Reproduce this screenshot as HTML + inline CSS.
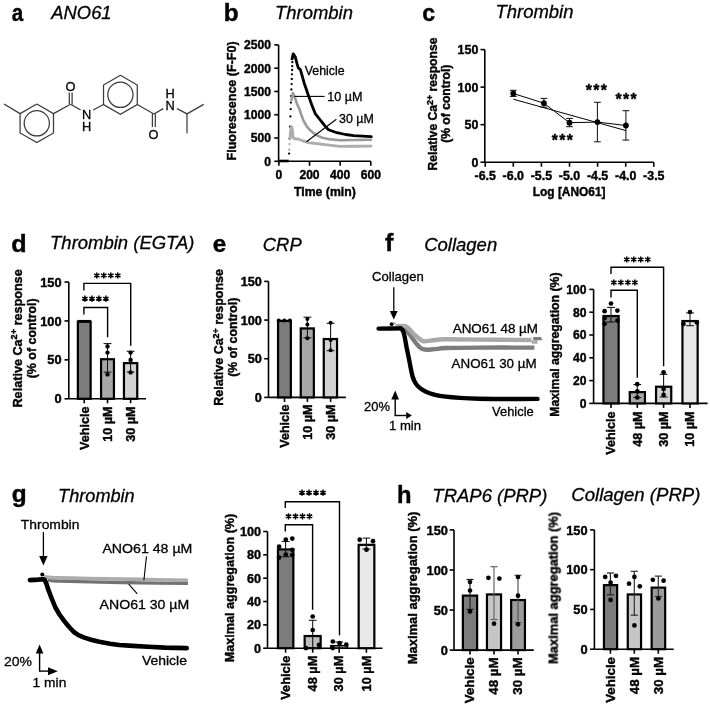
<!DOCTYPE html>
<html><head><meta charset="utf-8"><style>
html,body{margin:0;padding:0;background:#fff;}
svg{display:block;}
text{font-family:"Liberation Sans", sans-serif;}
</style></head><body>
<svg width="710" height="706" viewBox="0 0 710 706">
<defs><filter id="soft" x="0" y="0" width="1" height="1"><feGaussianBlur stdDeviation="0.35"/></filter></defs>
<rect x="0" y="0" width="710" height="706" fill="#fff"/>
<g filter="url(#soft)">
<text x="11.73" y="20.6" font-size="24" font-weight="bold" textLength="11.49" lengthAdjust="spacingAndGlyphs" stroke="#000" stroke-width="0.4">a</text>
<text x="51.37" y="18.6" font-size="18.5" font-style="italic" textLength="60.23" lengthAdjust="spacingAndGlyphs" stroke="#000" stroke-width="0.3">ANO61</text>
<polyline points="36.8,104 53.51,113.65 53.51,132.95 36.8,142.6 20.09,132.95 20.09,113.65 36.8,104" fill="none" stroke="#3a3a3a" stroke-width="1.25" stroke-linejoin="miter" stroke-linecap="butt"/>
<circle cx="36.8" cy="123.3" r="12.6" fill="none" stroke="#3a3a3a" stroke-width="1.25"/>
<line x1="20.09" y1="113.65" x2="4" y2="104" stroke="#3a3a3a" stroke-width="1.25"/>
<line x1="53.51" y1="113.65" x2="70.6" y2="104.3" stroke="#3a3a3a" stroke-width="1.25"/>
<line x1="69.3" y1="104" x2="69.3" y2="92.6" stroke="#3a3a3a" stroke-width="1.25"/>
<line x1="72.1" y1="104.8" x2="72.1" y2="92.6" stroke="#3a3a3a" stroke-width="1.25"/>
<text x="70.4" y="90.6" font-size="12.8" text-anchor="middle" stroke="#000" stroke-width="0.3">O</text>
<line x1="70.6" y1="104.3" x2="80.6" y2="110" stroke="#3a3a3a" stroke-width="1.25"/>
<text x="86.7" y="119" font-size="12.8" text-anchor="middle" stroke="#000" stroke-width="0.3">N</text>
<text x="86.7" y="130.5" font-size="12.8" text-anchor="middle" stroke="#000" stroke-width="0.3">H</text>
<polyline points="120.4,75.3 137.29,85.05 137.29,104.55 120.4,114.3 103.51,104.55 103.51,85.05 120.4,75.3" fill="none" stroke="#3a3a3a" stroke-width="1.25" stroke-linejoin="miter" stroke-linecap="butt"/>
<circle cx="120.4" cy="94.8" r="12.6" fill="none" stroke="#3a3a3a" stroke-width="1.25"/>
<line x1="93.2" y1="110" x2="103.51" y2="104.55" stroke="#3a3a3a" stroke-width="1.25"/>
<line x1="137.29" y1="104.55" x2="153.9" y2="114" stroke="#3a3a3a" stroke-width="1.25"/>
<line x1="152.4" y1="114" x2="152.4" y2="127" stroke="#3a3a3a" stroke-width="1.25"/>
<line x1="155.3" y1="113.4" x2="155.3" y2="127" stroke="#3a3a3a" stroke-width="1.25"/>
<text x="153.5" y="138.6" font-size="12.8" text-anchor="middle" stroke="#000" stroke-width="0.3">O</text>
<line x1="153.9" y1="114" x2="163.3" y2="108.6" stroke="#3a3a3a" stroke-width="1.25"/>
<text x="170" y="110" font-size="12.8" text-anchor="middle" stroke="#000" stroke-width="0.3">N</text>
<text x="170" y="98" font-size="12.8" text-anchor="middle" stroke="#000" stroke-width="0.3">H</text>
<line x1="177" y1="108.6" x2="187" y2="113.9" stroke="#3a3a3a" stroke-width="1.25"/>
<line x1="187" y1="113.9" x2="203.7" y2="104.4" stroke="#3a3a3a" stroke-width="1.25"/>
<line x1="187" y1="113.9" x2="187" y2="133.3" stroke="#3a3a3a" stroke-width="1.25"/>
<text x="223.77" y="20.6" font-size="24" font-weight="bold" textLength="14.88" lengthAdjust="spacingAndGlyphs" stroke="#000" stroke-width="0.4">b</text>
<text x="274.99" y="18.7" font-size="18.5" font-style="italic" textLength="77.91" lengthAdjust="spacingAndGlyphs" stroke="#000" stroke-width="0.3">Thrombin</text>
<line x1="278.6" y1="44.9" x2="278.6" y2="161.3" stroke="#000" stroke-width="1.6"/>
<line x1="274.3" y1="44.9" x2="278.6" y2="44.9" stroke="#000" stroke-width="1.6"/>
<text x="271" y="49.26" font-size="12.1" font-weight="bold" text-anchor="end" stroke="#000" stroke-width="0.4">2500</text>
<line x1="274.3" y1="68.18" x2="278.6" y2="68.18" stroke="#000" stroke-width="1.6"/>
<text x="271" y="72.54" font-size="12.1" font-weight="bold" text-anchor="end" stroke="#000" stroke-width="0.4">2000</text>
<line x1="274.3" y1="91.46" x2="278.6" y2="91.46" stroke="#000" stroke-width="1.6"/>
<text x="271" y="95.82" font-size="12.1" font-weight="bold" text-anchor="end" stroke="#000" stroke-width="0.4">1500</text>
<line x1="274.3" y1="114.74" x2="278.6" y2="114.74" stroke="#000" stroke-width="1.6"/>
<text x="271" y="119.1" font-size="12.1" font-weight="bold" text-anchor="end" stroke="#000" stroke-width="0.4">1000</text>
<line x1="274.3" y1="138.02" x2="278.6" y2="138.02" stroke="#000" stroke-width="1.6"/>
<text x="271" y="142.38" font-size="12.1" font-weight="bold" text-anchor="end" stroke="#000" stroke-width="0.4">500</text>
<line x1="274.3" y1="161.3" x2="278.6" y2="161.3" stroke="#000" stroke-width="1.6"/>
<text x="271" y="165.66" font-size="12.1" font-weight="bold" text-anchor="end" stroke="#000" stroke-width="0.4">0</text>
<line x1="278.6" y1="161.3" x2="370.8" y2="161.3" stroke="#000" stroke-width="1.6"/>
<line x1="278.9" y1="161.3" x2="278.9" y2="165.8" stroke="#000" stroke-width="1.6"/>
<line x1="309.53" y1="161.3" x2="309.53" y2="165.8" stroke="#000" stroke-width="1.6"/>
<line x1="340.17" y1="161.3" x2="340.17" y2="165.8" stroke="#000" stroke-width="1.6"/>
<line x1="370.8" y1="161.3" x2="370.8" y2="165.8" stroke="#000" stroke-width="1.6"/>
<text x="278.9" y="178.6" font-size="12.1" font-weight="bold" text-anchor="middle" stroke="#000" stroke-width="0.4">0</text>
<text x="309.53" y="178.6" font-size="12.1" font-weight="bold" text-anchor="middle" stroke="#000" stroke-width="0.4">200</text>
<text x="340.17" y="178.6" font-size="12.1" font-weight="bold" text-anchor="middle" stroke="#000" stroke-width="0.4">400</text>
<text x="370.8" y="178.6" font-size="12.1" font-weight="bold" text-anchor="middle" stroke="#000" stroke-width="0.4">600</text>
<text x="294.03" y="196.3" font-size="12.2" font-weight="bold" textLength="61.74" lengthAdjust="spacingAndGlyphs" stroke="#000" stroke-width="0.4">Time (min)</text>
<text x="235.6" y="160.5" font-size="12.7" font-weight="bold" textLength="119.17" lengthAdjust="spacingAndGlyphs" transform="rotate(-90 235.6 160.5)" stroke="#000" stroke-width="0.4">Fluorescence (F-F0)</text>
<polyline points="278.6,161 288.8,161" fill="none" stroke="#000" stroke-width="2.6" stroke-linejoin="round" stroke-linecap="butt"/>
<circle cx="292.5" cy="58.5" r="1.15" fill="#000"/>
<circle cx="292.37" cy="62.2" r="1.15" fill="#000"/>
<circle cx="292.22" cy="66.2" r="1.15" fill="#000"/>
<circle cx="292.09" cy="70" r="1.15" fill="#000"/>
<circle cx="291.94" cy="74.3" r="1.15" fill="#000"/>
<circle cx="291.77" cy="79" r="1.15" fill="#000"/>
<circle cx="291.58" cy="84.1" r="1.15" fill="#000"/>
<circle cx="291.39" cy="89.5" r="1.15" fill="#000"/>
<circle cx="291.16" cy="96" r="1.15" fill="#000"/>
<circle cx="290.92" cy="102.6" r="1.15" fill="#000"/>
<circle cx="290.69" cy="109.2" r="1.15" fill="#000"/>
<circle cx="290.43" cy="116.4" r="1.15" fill="#000"/>
<circle cx="290.06" cy="126.7" r="1.15" fill="#000"/>
<circle cx="289.63" cy="138.8" r="1.15" fill="#000"/>
<circle cx="289.44" cy="144.1" r="1.15" fill="#aaa"/>
<circle cx="289.24" cy="149.7" r="1.15" fill="#aaa"/>
<circle cx="289.1" cy="153.6" r="1.15" fill="#000"/>
<polyline points="290,138.5 290.8,130 291.4,126.8 292.2,129 293,137.3 294.5,138.7 298.3,139 303.3,141 308.2,142.6 313.7,143.3 325,144.6 340,146.4 355,146.3 371,146.1" fill="none" stroke="#adadad" stroke-width="2.9" stroke-linejoin="round" stroke-linecap="round"/>
<polyline points="291.5,100 292.9,93.1 295,97.7 297.2,104.5 299.3,108.8 301,113.9 303.5,120.7 306.9,126.6 311.2,131.3 316.3,135.1 322.2,137.7 330.7,139.4 340,140.2 355,140 371,139.8" fill="none" stroke="#9a9a9a" stroke-width="2.6" stroke-linejoin="round" stroke-linecap="round"/>
<polyline points="292,59 293.2,53.9 295.3,56.9 297,63.7 298.3,67.9 300.4,69.6 302.1,75.6 304.2,83.2 306.3,89.2 308.6,96 312,105.4 315.4,113.9 318.8,118.1 321.4,121.5 325.6,126.6 328.5,129.7 336.9,132.7 345.4,134.5 353.8,135.6 362.3,136.1 371.3,136.7" fill="none" stroke="#000" stroke-width="2.8" stroke-linejoin="round" stroke-linecap="round"/>
<text x="304.79" y="74.6" font-size="12" textLength="39.81" lengthAdjust="spacingAndGlyphs" stroke="#000" stroke-width="0.3">Vehicle</text>
<line x1="294.4" y1="96.4" x2="324.6" y2="96.4" stroke="#000" stroke-width="1.1"/>
<text x="327.2" y="100.6" font-size="12" textLength="35.28" lengthAdjust="spacingAndGlyphs" stroke="#000" stroke-width="0.3">10 µM</text>
<line x1="306.5" y1="141.8" x2="336.4" y2="119.2" stroke="#000" stroke-width="1.1"/>
<text x="338.98" y="122.7" font-size="12" textLength="34.78" lengthAdjust="spacingAndGlyphs" stroke="#000" stroke-width="0.3">30 µM</text>
<text x="422.22" y="20.6" font-size="24" font-weight="bold" textLength="12.89" lengthAdjust="spacingAndGlyphs" stroke="#000" stroke-width="0.4">c</text>
<text x="495.49" y="18.4" font-size="18.5" font-style="italic" textLength="78.02" lengthAdjust="spacingAndGlyphs" stroke="#000" stroke-width="0.3">Thrombin</text>
<line x1="484.8" y1="49.6" x2="484.8" y2="162.2" stroke="#000" stroke-width="1.6"/>
<line x1="480.5" y1="49.6" x2="484.8" y2="49.6" stroke="#000" stroke-width="1.6"/>
<text x="478.3" y="54.06" font-size="12.4" font-weight="bold" text-anchor="end" stroke="#000" stroke-width="0.4">150</text>
<line x1="480.5" y1="87.13" x2="484.8" y2="87.13" stroke="#000" stroke-width="1.6"/>
<text x="478.3" y="91.6" font-size="12.4" font-weight="bold" text-anchor="end" stroke="#000" stroke-width="0.4">100</text>
<line x1="480.5" y1="124.67" x2="484.8" y2="124.67" stroke="#000" stroke-width="1.6"/>
<text x="478.3" y="129.13" font-size="12.4" font-weight="bold" text-anchor="end" stroke="#000" stroke-width="0.4">50</text>
<line x1="480.5" y1="162.2" x2="484.8" y2="162.2" stroke="#000" stroke-width="1.6"/>
<text x="478.3" y="166.66" font-size="12.4" font-weight="bold" text-anchor="end" stroke="#000" stroke-width="0.4">0</text>
<line x1="484.8" y1="162.2" x2="653.8" y2="162.2" stroke="#000" stroke-width="1.6"/>
<line x1="485.2" y1="162.2" x2="485.2" y2="166.7" stroke="#000" stroke-width="1.6"/>
<line x1="513.3" y1="162.2" x2="513.3" y2="166.7" stroke="#000" stroke-width="1.6"/>
<line x1="541.4" y1="162.2" x2="541.4" y2="166.7" stroke="#000" stroke-width="1.6"/>
<line x1="569.5" y1="162.2" x2="569.5" y2="166.7" stroke="#000" stroke-width="1.6"/>
<line x1="597.6" y1="162.2" x2="597.6" y2="166.7" stroke="#000" stroke-width="1.6"/>
<line x1="625.7" y1="162.2" x2="625.7" y2="166.7" stroke="#000" stroke-width="1.6"/>
<line x1="653.8" y1="162.2" x2="653.8" y2="166.7" stroke="#000" stroke-width="1.6"/>
<text x="485.2" y="179.8" font-size="12.4" font-weight="bold" text-anchor="middle" stroke="#000" stroke-width="0.4">-6.5</text>
<text x="513.3" y="179.8" font-size="12.4" font-weight="bold" text-anchor="middle" stroke="#000" stroke-width="0.4">-6.0</text>
<text x="541.4" y="179.8" font-size="12.4" font-weight="bold" text-anchor="middle" stroke="#000" stroke-width="0.4">-5.5</text>
<text x="569.5" y="179.8" font-size="12.4" font-weight="bold" text-anchor="middle" stroke="#000" stroke-width="0.4">-5.0</text>
<text x="597.6" y="179.8" font-size="12.4" font-weight="bold" text-anchor="middle" stroke="#000" stroke-width="0.4">-4.5</text>
<text x="625.7" y="179.8" font-size="12.4" font-weight="bold" text-anchor="middle" stroke="#000" stroke-width="0.4">-4.0</text>
<text x="653.8" y="179.8" font-size="12.4" font-weight="bold" text-anchor="middle" stroke="#000" stroke-width="0.4">-3.5</text>
<text x="532.75" y="196.4" font-size="12.2" font-weight="bold" textLength="72.77" lengthAdjust="spacingAndGlyphs" stroke="#000" stroke-width="0.4">Log [ANO61]</text>
<text x="437" y="170.47" font-size="12.2" font-weight="bold" textLength="65.53" lengthAdjust="spacingAndGlyphs" transform="rotate(-90 437 170.47)" stroke="#000" stroke-width="0.4">Relative Ca</text>
<text x="432.61" y="104.94" font-size="8.78" font-weight="bold" textLength="9.98" lengthAdjust="spacingAndGlyphs" transform="rotate(-90 432.61 104.94)" stroke="#000" stroke-width="0.4">2+</text>
<text x="437" y="91.58" font-size="12.2" font-weight="bold" textLength="54.04" lengthAdjust="spacingAndGlyphs" transform="rotate(-90 437 91.58)" stroke="#000" stroke-width="0.4">response</text>
<text x="450.2" y="142.86" font-size="12" font-weight="bold" textLength="78.23" lengthAdjust="spacingAndGlyphs" transform="rotate(-90 450.2 142.86)" stroke="#000" stroke-width="0.4">(% of control)</text>
<line x1="513.3" y1="90.3" x2="513.3" y2="96.4" stroke="#111" stroke-width="1"/>
<line x1="509.9" y1="90.3" x2="516.7" y2="90.3" stroke="#111" stroke-width="1"/>
<line x1="509.9" y1="96.4" x2="516.7" y2="96.4" stroke="#111" stroke-width="1"/>
<line x1="543.9" y1="98.4" x2="543.9" y2="107.2" stroke="#111" stroke-width="1"/>
<line x1="540.5" y1="98.4" x2="547.3" y2="98.4" stroke="#111" stroke-width="1"/>
<line x1="540.5" y1="107.2" x2="547.3" y2="107.2" stroke="#111" stroke-width="1"/>
<line x1="569.5" y1="118.4" x2="569.5" y2="126.7" stroke="#111" stroke-width="1"/>
<line x1="566.1" y1="118.4" x2="572.9" y2="118.4" stroke="#111" stroke-width="1"/>
<line x1="566.1" y1="126.7" x2="572.9" y2="126.7" stroke="#111" stroke-width="1"/>
<line x1="597.4" y1="102.3" x2="597.4" y2="141.8" stroke="#111" stroke-width="1"/>
<line x1="594" y1="102.3" x2="600.8" y2="102.3" stroke="#111" stroke-width="1"/>
<line x1="594" y1="141.8" x2="600.8" y2="141.8" stroke="#111" stroke-width="1"/>
<line x1="625.9" y1="110.7" x2="625.9" y2="140.1" stroke="#111" stroke-width="1"/>
<line x1="622.5" y1="110.7" x2="629.3" y2="110.7" stroke="#111" stroke-width="1"/>
<line x1="622.5" y1="140.1" x2="629.3" y2="140.1" stroke="#111" stroke-width="1"/>
<polyline points="513.3,93.5 543.9,103.2 569.5,122.7 597.4,122.1 625.9,125.5" fill="none" stroke="#000" stroke-width="1" stroke-linejoin="round" stroke-linecap="round"/>
<line x1="513.3" y1="99.2" x2="626" y2="130.6" stroke="#000" stroke-width="1"/>
<circle cx="513.3" cy="93.5" r="2.9" fill="#000"/>
<circle cx="543.9" cy="103.2" r="2.9" fill="#000"/>
<circle cx="569.5" cy="122.7" r="2.9" fill="#000"/>
<circle cx="597.4" cy="122.1" r="2.9" fill="#000"/>
<circle cx="625.9" cy="125.5" r="2.9" fill="#000"/>
<text x="554.9" y="146.06" font-size="15.8" font-weight="bold" text-anchor="middle" stroke="#000" stroke-width="0.4">*</text>
<text x="562.4" y="146.06" font-size="15.8" font-weight="bold" text-anchor="middle" stroke="#000" stroke-width="0.4">*</text>
<text x="569.9" y="146.06" font-size="15.8" font-weight="bold" text-anchor="middle" stroke="#000" stroke-width="0.4">*</text>
<text x="588.8" y="96.16" font-size="15.8" font-weight="bold" text-anchor="middle" stroke="#000" stroke-width="0.4">*</text>
<text x="596.3" y="96.16" font-size="15.8" font-weight="bold" text-anchor="middle" stroke="#000" stroke-width="0.4">*</text>
<text x="603.8" y="96.16" font-size="15.8" font-weight="bold" text-anchor="middle" stroke="#000" stroke-width="0.4">*</text>
<text x="618.7" y="104.66" font-size="15.8" font-weight="bold" text-anchor="middle" stroke="#000" stroke-width="0.4">*</text>
<text x="626.2" y="104.66" font-size="15.8" font-weight="bold" text-anchor="middle" stroke="#000" stroke-width="0.4">*</text>
<text x="633.7" y="104.66" font-size="15.8" font-weight="bold" text-anchor="middle" stroke="#000" stroke-width="0.4">*</text>
<text x="11.34" y="251.6" font-size="24" font-weight="bold" textLength="15.36" lengthAdjust="spacingAndGlyphs" stroke="#000" stroke-width="0.4">d</text>
<text x="50.09" y="248.8" font-size="18.5" font-style="italic" textLength="144.39" lengthAdjust="spacingAndGlyphs" stroke="#000" stroke-width="0.3">Thrombin (EGTA)</text>
<line x1="68.8" y1="282" x2="68.8" y2="398.8" stroke="#000" stroke-width="1.6"/>
<line x1="64.5" y1="282" x2="68.8" y2="282" stroke="#000" stroke-width="1.6"/>
<text x="61.6" y="286.61" font-size="12.8" font-weight="bold" text-anchor="end" stroke="#000" stroke-width="0.4">150</text>
<line x1="64.5" y1="320.93" x2="68.8" y2="320.93" stroke="#000" stroke-width="1.6"/>
<text x="61.6" y="325.54" font-size="12.8" font-weight="bold" text-anchor="end" stroke="#000" stroke-width="0.4">100</text>
<line x1="64.5" y1="359.87" x2="68.8" y2="359.87" stroke="#000" stroke-width="1.6"/>
<text x="61.6" y="364.47" font-size="12.8" font-weight="bold" text-anchor="end" stroke="#000" stroke-width="0.4">50</text>
<line x1="64.5" y1="398.8" x2="68.8" y2="398.8" stroke="#000" stroke-width="1.6"/>
<text x="61.6" y="403.41" font-size="12.8" font-weight="bold" text-anchor="end" stroke="#000" stroke-width="0.4">0</text>
<line x1="68.8" y1="398.8" x2="146" y2="398.8" stroke="#000" stroke-width="1.6"/>
<line x1="84.2" y1="398.8" x2="84.2" y2="403.3" stroke="#000" stroke-width="1.6"/>
<line x1="107.5" y1="398.8" x2="107.5" y2="403.3" stroke="#000" stroke-width="1.6"/>
<line x1="130.6" y1="398.8" x2="130.6" y2="403.3" stroke="#000" stroke-width="1.6"/>
<rect x="77.85" y="321.76" width="12.8" height="77.04" fill="#7b7b7b" stroke="#000" stroke-width="2.2"/>
<rect x="101.05" y="359.23" width="12.9" height="39.57" fill="#a7a7a7" stroke="#000" stroke-width="2.2"/>
<rect x="123.95" y="363.13" width="13.3" height="35.67" fill="#d2d2d2" stroke="#000" stroke-width="2.2"/>
<line x1="77.5" y1="321.23" x2="91" y2="321.23" stroke="#000" stroke-width="2.6"/>
<line x1="107.5" y1="343.6" x2="107.5" y2="372.1" stroke="#111" stroke-width="1.05"/>
<line x1="103.6" y1="343.6" x2="111.4" y2="343.6" stroke="#111" stroke-width="1.05"/>
<line x1="103.6" y1="372.1" x2="111.4" y2="372.1" stroke="#111" stroke-width="1.05"/>
<line x1="130.6" y1="351.3" x2="130.6" y2="372.1" stroke="#111" stroke-width="1.05"/>
<line x1="126.7" y1="351.3" x2="134.5" y2="351.3" stroke="#111" stroke-width="1.05"/>
<line x1="126.7" y1="372.1" x2="134.5" y2="372.1" stroke="#111" stroke-width="1.05"/>
<circle cx="107.5" cy="346.4" r="2.2" fill="#000"/>
<circle cx="107.5" cy="352.6" r="2.2" fill="#000"/>
<circle cx="107.5" cy="374.4" r="2.2" fill="#000"/>
<circle cx="130.6" cy="352.6" r="2.2" fill="#000"/>
<circle cx="130.6" cy="359.9" r="2.2" fill="#000"/>
<circle cx="130.6" cy="372.4" r="2.2" fill="#000"/>
<polyline points="83.9,314.5 83.9,307.5 107.6,307.5 107.6,337.2" fill="none" stroke="#000" stroke-width="1.4" stroke-linejoin="miter" stroke-linecap="butt"/>
<polyline points="83.9,290.5 83.9,283.4 130.7,283.4 130.7,345.7" fill="none" stroke="#000" stroke-width="1.4" stroke-linejoin="miter" stroke-linecap="butt"/>
<path d="M84.9,295.6 L84.9,301.8 M82.22,297.15 L87.58,300.25 M87.58,297.15 L82.22,300.25 M91.9,295.6 L91.9,301.8 M89.22,297.15 L94.58,300.25 M94.58,297.15 L89.22,300.25 M98.9,295.6 L98.9,301.8 M96.22,297.15 L101.58,300.25 M101.58,297.15 L96.22,300.25 M105.9,295.6 L105.9,301.8 M103.22,297.15 L108.58,300.25 M108.58,297.15 L103.22,300.25" stroke="#000" stroke-width="1.5" stroke-linecap="butt" fill="none"/>
<path d="M96.8,272.4 L96.8,278.6 M94.12,273.95 L99.48,277.05 M99.48,273.95 L94.12,277.05 M103.8,272.4 L103.8,278.6 M101.12,273.95 L106.48,277.05 M106.48,273.95 L101.12,277.05 M110.8,272.4 L110.8,278.6 M108.12,273.95 L113.48,277.05 M113.48,273.95 L108.12,277.05 M117.8,272.4 L117.8,278.6 M115.12,273.95 L120.48,277.05 M120.48,273.95 L115.12,277.05" stroke="#000" stroke-width="1.5" stroke-linecap="butt" fill="none"/>
<text x="88.5" y="406.5" font-size="12.6" font-weight="bold" text-anchor="end" transform="rotate(-90 88.5 406.5)" stroke="#000" stroke-width="0.4">Vehicle</text>
<text x="111.8" y="406.5" font-size="12.6" font-weight="bold" text-anchor="end" transform="rotate(-90 111.8 406.5)" stroke="#000" stroke-width="0.4">10 µM</text>
<text x="134.9" y="406.5" font-size="12.6" font-weight="bold" text-anchor="end" transform="rotate(-90 134.9 406.5)" stroke="#000" stroke-width="0.4">30 µM</text>
<text x="22" y="407.5" font-size="12.9" font-weight="bold" textLength="68.12" lengthAdjust="spacingAndGlyphs" transform="rotate(-90 22 407.5)" stroke="#000" stroke-width="0.4">Relative Ca</text>
<text x="17.36" y="339.38" font-size="9.29" font-weight="bold" textLength="10.37" lengthAdjust="spacingAndGlyphs" transform="rotate(-90 17.36 339.38)" stroke="#000" stroke-width="0.4">2+</text>
<text x="22" y="325.5" font-size="12.9" font-weight="bold" textLength="56.18" lengthAdjust="spacingAndGlyphs" transform="rotate(-90 22 325.5)" stroke="#000" stroke-width="0.4">response</text>
<text x="35.8" y="378.27" font-size="12.5" font-weight="bold" textLength="79.95" lengthAdjust="spacingAndGlyphs" transform="rotate(-90 35.8 378.27)" stroke="#000" stroke-width="0.4">(% of control)</text>
<text x="212.78" y="251.6" font-size="24" font-weight="bold" textLength="13.49" lengthAdjust="spacingAndGlyphs" stroke="#000" stroke-width="0.4">e</text>
<text x="262.84" y="250.8" font-size="18.5" font-style="italic" textLength="38.83" lengthAdjust="spacingAndGlyphs" stroke="#000" stroke-width="0.3">CRP</text>
<line x1="268.5" y1="281.4" x2="268.5" y2="397.4" stroke="#000" stroke-width="1.6"/>
<line x1="264.2" y1="281.4" x2="268.5" y2="281.4" stroke="#000" stroke-width="1.6"/>
<text x="261.9" y="285.97" font-size="12.7" font-weight="bold" text-anchor="end" stroke="#000" stroke-width="0.4">150</text>
<line x1="264.2" y1="320.07" x2="268.5" y2="320.07" stroke="#000" stroke-width="1.6"/>
<text x="261.9" y="324.64" font-size="12.7" font-weight="bold" text-anchor="end" stroke="#000" stroke-width="0.4">100</text>
<line x1="264.2" y1="358.73" x2="268.5" y2="358.73" stroke="#000" stroke-width="1.6"/>
<text x="261.9" y="363.31" font-size="12.7" font-weight="bold" text-anchor="end" stroke="#000" stroke-width="0.4">50</text>
<line x1="264.2" y1="397.4" x2="268.5" y2="397.4" stroke="#000" stroke-width="1.6"/>
<text x="261.9" y="401.97" font-size="12.7" font-weight="bold" text-anchor="end" stroke="#000" stroke-width="0.4">0</text>
<line x1="268.5" y1="397.4" x2="345.8" y2="397.4" stroke="#000" stroke-width="1.6"/>
<line x1="284.5" y1="397.4" x2="284.5" y2="401.9" stroke="#000" stroke-width="1.6"/>
<line x1="307.4" y1="397.4" x2="307.4" y2="401.9" stroke="#000" stroke-width="1.6"/>
<line x1="330.6" y1="397.4" x2="330.6" y2="401.9" stroke="#000" stroke-width="1.6"/>
<rect x="278.05" y="320.9" width="12.8" height="76.5" fill="#7b7b7b" stroke="#000" stroke-width="2.2"/>
<rect x="300.75" y="328.43" width="13.1" height="68.97" fill="#a7a7a7" stroke="#000" stroke-width="2.2"/>
<rect x="323.75" y="339.03" width="13.3" height="58.37" fill="#d2d2d2" stroke="#000" stroke-width="2.2"/>
<line x1="307.4" y1="317.2" x2="307.4" y2="337.8" stroke="#111" stroke-width="1.05"/>
<line x1="303.5" y1="317.2" x2="311.3" y2="317.2" stroke="#111" stroke-width="1.05"/>
<line x1="303.5" y1="337.8" x2="311.3" y2="337.8" stroke="#111" stroke-width="1.05"/>
<line x1="330.6" y1="323.3" x2="330.6" y2="350.7" stroke="#111" stroke-width="1.05"/>
<line x1="326.7" y1="323.3" x2="334.5" y2="323.3" stroke="#111" stroke-width="1.05"/>
<line x1="326.7" y1="350.7" x2="334.5" y2="350.7" stroke="#111" stroke-width="1.05"/>
<circle cx="278.7" cy="320.5" r="2" fill="#000"/>
<circle cx="284.4" cy="320.5" r="2" fill="#000"/>
<circle cx="289.9" cy="320.5" r="2" fill="#000"/>
<circle cx="307.4" cy="319.1" r="2" fill="#000"/>
<circle cx="307.4" cy="324.5" r="2" fill="#000"/>
<circle cx="307.4" cy="338.2" r="2" fill="#000"/>
<circle cx="330.6" cy="322.7" r="2" fill="#000"/>
<circle cx="330.6" cy="340.1" r="2" fill="#000"/>
<circle cx="330.6" cy="350.2" r="2" fill="#000"/>
<text x="288.8" y="404.4" font-size="12.6" font-weight="bold" text-anchor="end" transform="rotate(-90 288.8 404.4)" stroke="#000" stroke-width="0.4">Vehicle</text>
<text x="311.7" y="404.4" font-size="12.6" font-weight="bold" text-anchor="end" transform="rotate(-90 311.7 404.4)" stroke="#000" stroke-width="0.4">10 µM</text>
<text x="334.9" y="404.4" font-size="12.6" font-weight="bold" text-anchor="end" transform="rotate(-90 334.9 404.4)" stroke="#000" stroke-width="0.4">30 µM</text>
<text x="223.4" y="405.79" font-size="12.9" font-weight="bold" textLength="67.43" lengthAdjust="spacingAndGlyphs" transform="rotate(-90 223.4 405.79)" stroke="#000" stroke-width="0.4">Relative Ca</text>
<text x="218.76" y="338.37" font-size="9.29" font-weight="bold" textLength="10.27" lengthAdjust="spacingAndGlyphs" transform="rotate(-90 218.76 338.37)" stroke="#000" stroke-width="0.4">2+</text>
<text x="223.4" y="324.63" font-size="12.9" font-weight="bold" textLength="55.6" lengthAdjust="spacingAndGlyphs" transform="rotate(-90 223.4 324.63)" stroke="#000" stroke-width="0.4">response</text>
<text x="237.1" y="376.76" font-size="12.6" font-weight="bold" textLength="79.04" lengthAdjust="spacingAndGlyphs" transform="rotate(-90 237.1 376.76)" stroke="#000" stroke-width="0.4">(% of control)</text>
<text x="385.11" y="251.3" font-size="24" font-weight="bold" textLength="8.39" lengthAdjust="spacingAndGlyphs" stroke="#000" stroke-width="0.4">f</text>
<text x="424.13" y="250.8" font-size="18.5" font-style="italic" textLength="73.05" lengthAdjust="spacingAndGlyphs" stroke="#000" stroke-width="0.3">Collagen</text>
<text x="371.99" y="281.3" font-size="12.8" textLength="51.77" lengthAdjust="spacingAndGlyphs" stroke="#000" stroke-width="0.3">Collagen</text>
<line x1="393.8" y1="287.2" x2="393.8" y2="312" stroke="#000" stroke-width="1.3"/>
<polygon points="389.8,311 397.7,311 393.8,319.6" fill="#000"/>
<path d="M401.5,327 C402.25,327.42 404.75,328.42 406,329.5 C407.25,330.58 408.02,332.15 409,333.5 C409.98,334.85 410.72,335.95 411.9,337.6 C413.08,339.25 414.83,341.83 416.1,343.4 C417.37,344.97 418.37,346.03 419.5,347 C420.63,347.97 421.35,348.75 422.9,349.2 C424.45,349.65 426.4,349.75 428.8,349.7 C431.2,349.65 434.48,349.18 437.3,348.9 C440.12,348.62 438.58,348.22 445.7,348 C452.82,347.78 465.22,347.67 480,347.6 C494.78,347.53 525.33,347.6 534.4,347.6" fill="none" stroke="#7d7d7d" stroke-width="4.4" stroke-linejoin="round" stroke-linecap="butt"/>
<path d="M395.5,326.4 C396.68,326.32 400.85,325.9 402.6,325.9 C404.35,325.9 404.77,325.75 406,326.4 C407.23,327.05 408.6,328.42 410,329.8 C411.4,331.18 412.67,333.07 414.4,334.7 C416.13,336.33 418.85,338.5 420.4,339.6 C421.95,340.7 422.02,341.13 423.7,341.3 C425.38,341.47 428.23,340.87 430.5,340.6 C432.77,340.33 434.77,339.93 437.3,339.7 C439.83,339.47 438.58,339.22 445.7,339.2 C452.82,339.18 465.68,339.47 480,339.6 C494.32,339.73 523,339.93 531.6,340" fill="none" stroke="#a9a9a9" stroke-width="4.4" stroke-linejoin="round" stroke-linecap="butt"/>
<line x1="531.6" y1="342" x2="537.6" y2="342" stroke="#a9a9a9" stroke-width="3.4"/>
<polygon points="533.2,337 541,337 542.4,340.2 533.2,340.2" fill="#7d7d7d"/>
<polyline points="378.6,328.6 391,328.5 400.5,328.4" fill="none" stroke="#000" stroke-width="4.4" stroke-linejoin="round" stroke-linecap="round"/>
<path d="M400.5,328.4 C400.85,328.7 401.97,329.1 402.6,330.2 C403.23,331.3 403.6,331.97 404.3,335 C405,338.03 406.03,344.48 406.8,348.4 C407.57,352.32 408.25,355.23 408.9,358.5 C409.55,361.77 410.08,365 410.7,368 C411.32,371 411.88,374.12 412.6,376.5 C413.32,378.88 414.07,380.63 415,382.3 C415.93,383.97 416.87,385.18 418.2,386.5 C419.53,387.82 421.1,389.07 423,390.2 C424.9,391.33 427.43,392.48 429.6,393.3 C431.77,394.12 433.65,394.58 436,395.1 C438.35,395.62 439.7,395.93 443.7,396.4 C447.7,396.87 454.08,397.52 460,397.9 C465.92,398.28 470.87,398.52 479.2,398.7 C487.53,398.88 500.28,398.97 510,399 C519.72,399.03 532.92,398.92 537.5,398.9" fill="none" stroke="#000" stroke-width="4.4" stroke-linejoin="round" stroke-linecap="round"/>
<circle cx="394.3" cy="323.4" r="1.3" fill="#b0b0b0"/>
<circle cx="391.6" cy="324.2" r="1.85" fill="#000"/>
<text x="452.72" y="332.5" font-size="12.8" textLength="85.26" lengthAdjust="spacingAndGlyphs" stroke="#000" stroke-width="0.3">ANO61 48 µM</text>
<text x="451.62" y="367.5" font-size="12.8" textLength="84.96" lengthAdjust="spacingAndGlyphs" stroke="#000" stroke-width="0.3">ANO61 30 µM</text>
<text x="492.09" y="415.5" font-size="12.8" textLength="41.64" lengthAdjust="spacingAndGlyphs" stroke="#000" stroke-width="0.3">Vehicle</text>
<line x1="395.2" y1="398.5" x2="395.2" y2="415.5" stroke="#000" stroke-width="1.4"/>
<polygon points="391.3,399.4 399,399.4 395.2,390.6" fill="#000"/>
<line x1="394.5" y1="415.5" x2="406.6" y2="415.5" stroke="#000" stroke-width="1.4"/>
<polygon points="406.2,411.9 406.2,419.1 411.9,415.5" fill="#000"/>
<text x="364" y="411" font-size="12.8" textLength="25.99" lengthAdjust="spacingAndGlyphs" stroke="#000" stroke-width="0.3">20%</text>
<text x="388.97" y="429.9" font-size="12.8" textLength="32.11" lengthAdjust="spacingAndGlyphs" stroke="#000" stroke-width="0.3">1 min</text>
<line x1="593.6" y1="289.4" x2="593.6" y2="403.4" stroke="#000" stroke-width="1.6"/>
<line x1="589.3" y1="289.4" x2="593.6" y2="289.4" stroke="#000" stroke-width="1.6"/>
<text x="586.4" y="293.76" font-size="12.1" font-weight="bold" text-anchor="end" stroke="#000" stroke-width="0.4">100</text>
<line x1="589.3" y1="312.2" x2="593.6" y2="312.2" stroke="#000" stroke-width="1.6"/>
<text x="586.4" y="316.56" font-size="12.1" font-weight="bold" text-anchor="end" stroke="#000" stroke-width="0.4">80</text>
<line x1="589.3" y1="335" x2="593.6" y2="335" stroke="#000" stroke-width="1.6"/>
<text x="586.4" y="339.36" font-size="12.1" font-weight="bold" text-anchor="end" stroke="#000" stroke-width="0.4">60</text>
<line x1="589.3" y1="357.8" x2="593.6" y2="357.8" stroke="#000" stroke-width="1.6"/>
<text x="586.4" y="362.16" font-size="12.1" font-weight="bold" text-anchor="end" stroke="#000" stroke-width="0.4">40</text>
<line x1="589.3" y1="380.6" x2="593.6" y2="380.6" stroke="#000" stroke-width="1.6"/>
<text x="586.4" y="384.96" font-size="12.1" font-weight="bold" text-anchor="end" stroke="#000" stroke-width="0.4">20</text>
<line x1="589.3" y1="403.4" x2="593.6" y2="403.4" stroke="#000" stroke-width="1.6"/>
<text x="586.4" y="407.76" font-size="12.1" font-weight="bold" text-anchor="end" stroke="#000" stroke-width="0.4">0</text>
<line x1="593.6" y1="403.4" x2="707.6" y2="403.4" stroke="#000" stroke-width="1.6"/>
<line x1="611" y1="403.4" x2="611" y2="407.9" stroke="#000" stroke-width="1.6"/>
<line x1="637.3" y1="403.4" x2="637.3" y2="407.9" stroke="#000" stroke-width="1.6"/>
<line x1="663.6" y1="403.4" x2="663.6" y2="407.9" stroke="#000" stroke-width="1.6"/>
<line x1="690" y1="403.4" x2="690" y2="407.9" stroke="#000" stroke-width="1.6"/>
<rect x="603.45" y="316.03" width="15.2" height="87.37" fill="#7b7b7b" stroke="#000" stroke-width="2.2"/>
<rect x="629.75" y="392.13" width="15.2" height="11.27" fill="#a7a7a7" stroke="#000" stroke-width="2.2"/>
<rect x="656.05" y="386.73" width="15.2" height="16.67" fill="#d2d2d2" stroke="#000" stroke-width="2.2"/>
<rect x="682.45" y="321.03" width="15.2" height="82.37" fill="#e8e8e8" stroke="#000" stroke-width="2.2"/>
<line x1="611" y1="307.4" x2="611" y2="322" stroke="#111" stroke-width="1.05"/>
<line x1="607.1" y1="307.4" x2="614.9" y2="307.4" stroke="#111" stroke-width="1.05"/>
<line x1="607.1" y1="322" x2="614.9" y2="322" stroke="#111" stroke-width="1.05"/>
<line x1="637.3" y1="384.5" x2="637.3" y2="397.5" stroke="#111" stroke-width="1.05"/>
<line x1="633.4" y1="384.5" x2="641.2" y2="384.5" stroke="#111" stroke-width="1.05"/>
<line x1="633.4" y1="397.5" x2="641.2" y2="397.5" stroke="#111" stroke-width="1.05"/>
<line x1="663.6" y1="374.3" x2="663.6" y2="397" stroke="#111" stroke-width="1.05"/>
<line x1="659.7" y1="374.3" x2="667.5" y2="374.3" stroke="#111" stroke-width="1.05"/>
<line x1="659.7" y1="397" x2="667.5" y2="397" stroke="#111" stroke-width="1.05"/>
<line x1="690" y1="312.9" x2="690" y2="325.7" stroke="#111" stroke-width="1.05"/>
<line x1="686.1" y1="312.9" x2="693.9" y2="312.9" stroke="#111" stroke-width="1.05"/>
<line x1="686.1" y1="325.7" x2="693.9" y2="325.7" stroke="#111" stroke-width="1.05"/>
<circle cx="604.6" cy="311.2" r="2.35" fill="#000"/>
<circle cx="611" cy="303.5" r="2.35" fill="#000"/>
<circle cx="617.4" cy="310.6" r="2.35" fill="#000"/>
<circle cx="604.6" cy="318" r="2.35" fill="#000"/>
<circle cx="617.4" cy="320.5" r="2.35" fill="#000"/>
<circle cx="604.6" cy="323.7" r="2.35" fill="#000"/>
<circle cx="637.3" cy="384.2" r="2.35" fill="#000"/>
<circle cx="637.3" cy="391.3" r="2.35" fill="#000"/>
<circle cx="637.3" cy="397.5" r="2.35" fill="#000"/>
<circle cx="663.6" cy="372.3" r="2.35" fill="#000"/>
<circle cx="663.6" cy="389" r="2.35" fill="#000"/>
<circle cx="663.6" cy="394.9" r="2.35" fill="#000"/>
<circle cx="690" cy="312" r="2.35" fill="#000"/>
<circle cx="683.4" cy="324.1" r="2.35" fill="#000"/>
<circle cx="696.9" cy="322.6" r="2.35" fill="#000"/>
<polyline points="611,297.5 611,290.3 637.3,290.3 637.3,377.7" fill="none" stroke="#000" stroke-width="1.4" stroke-linejoin="miter" stroke-linecap="butt"/>
<polyline points="611,274.1 611,267.2 663.6,267.2 663.6,366.3" fill="none" stroke="#000" stroke-width="1.4" stroke-linejoin="miter" stroke-linecap="butt"/>
<path d="M613.85,279.4 L613.85,285.6 M611.17,280.95 L616.53,284.05 M616.53,280.95 L611.17,284.05 M620.85,279.4 L620.85,285.6 M618.17,280.95 L623.53,284.05 M623.53,280.95 L618.17,284.05 M627.85,279.4 L627.85,285.6 M625.17,280.95 L630.53,284.05 M630.53,280.95 L625.17,284.05 M634.85,279.4 L634.85,285.6 M632.17,280.95 L637.53,284.05 M637.53,280.95 L632.17,284.05" stroke="#000" stroke-width="1.5" stroke-linecap="butt" fill="none"/>
<path d="M626.75,256.4 L626.75,262.6 M624.07,257.95 L629.43,261.05 M629.43,257.95 L624.07,261.05 M633.75,256.4 L633.75,262.6 M631.07,257.95 L636.43,261.05 M636.43,257.95 L631.07,261.05 M640.75,256.4 L640.75,262.6 M638.07,257.95 L643.43,261.05 M643.43,257.95 L638.07,261.05 M647.75,256.4 L647.75,262.6 M645.07,257.95 L650.43,261.05 M650.43,257.95 L645.07,261.05" stroke="#000" stroke-width="1.5" stroke-linecap="butt" fill="none"/>
<text x="615.3" y="411.4" font-size="12.6" font-weight="bold" text-anchor="end" transform="rotate(-90 615.3 411.4)" stroke="#000" stroke-width="0.4">Vehicle</text>
<text x="641.6" y="411.4" font-size="12.6" font-weight="bold" text-anchor="end" transform="rotate(-90 641.6 411.4)" stroke="#000" stroke-width="0.4">48 µM</text>
<text x="667.9" y="411.4" font-size="12.6" font-weight="bold" text-anchor="end" transform="rotate(-90 667.9 411.4)" stroke="#000" stroke-width="0.4">30 µM</text>
<text x="694.3" y="411.4" font-size="12.6" font-weight="bold" text-anchor="end" transform="rotate(-90 694.3 411.4)" stroke="#000" stroke-width="0.4">10 µM</text>
<text x="558.6" y="416.68" font-size="12.5" font-weight="bold" textLength="144.14" lengthAdjust="spacingAndGlyphs" transform="rotate(-90 558.6 416.68)" stroke="#000" stroke-width="0.4">Maximal aggregation (%)</text>
<text x="11.78" y="502.4" font-size="24" font-weight="bold" textLength="14.88" lengthAdjust="spacingAndGlyphs" stroke="#000" stroke-width="0.4">g</text>
<text x="58.12" y="502.3" font-size="18.5" font-style="italic" textLength="76.57" lengthAdjust="spacingAndGlyphs" stroke="#000" stroke-width="0.3">Thrombin</text>
<text x="20.84" y="528.7" font-size="13" textLength="58.6" lengthAdjust="spacingAndGlyphs" stroke="#000" stroke-width="0.3">Thrombin</text>
<line x1="43.4" y1="532.1" x2="43.4" y2="557" stroke="#000" stroke-width="1.3"/>
<polygon points="39.2,555.9 47.6,555.9 43.4,565.6" fill="#000"/>
<path d="M48,580 C48.77,580.13 50.6,580.62 52.6,580.8 C54.6,580.98 53.77,580.92 60,581.1 C66.23,581.28 76.67,581.62 90,581.9 C103.33,582.18 123.68,582.55 140,582.8 C156.32,583.05 179.92,583.3 187.9,583.4" fill="none" stroke="#727272" stroke-width="3.3" stroke-linejoin="round" stroke-linecap="butt"/>
<path d="M44,576.6 C45,576.73 47.33,577.18 50,577.4 C52.67,577.62 53.33,577.72 60,577.9 C66.67,578.08 76.67,578.25 90,578.5 C103.33,578.75 123.68,579.12 140,579.4 C156.32,579.68 179.92,580.07 187.9,580.2" fill="none" stroke="#ababab" stroke-width="3.6" stroke-linejoin="round" stroke-linecap="butt"/>
<polyline points="29.9,580.1 38,579.6 42.7,579.2 44.8,580 46.5,584 48.3,589.7 51.5,598 55.4,607.5 59.5,614.5 63.9,620.6 68.5,626.3 73.8,632 78.5,635.2 83.7,637.4 91,639.8 99.3,641.8 110,643.7 119.2,645 133,645.9 148,646.7 165,647.6 186.7,648.1" fill="none" stroke="#000" stroke-width="4.6" stroke-linejoin="round" stroke-linecap="round"/>
<circle cx="42.3" cy="574.4" r="2" fill="#000"/>
<line x1="146.5" y1="556.3" x2="143.9" y2="580.3" stroke="#000" stroke-width="1.1"/>
<line x1="128.7" y1="584.2" x2="137.3" y2="593.9" stroke="#000" stroke-width="1.1"/>
<text x="102.41" y="553.2" font-size="13.1" textLength="89.93" lengthAdjust="spacingAndGlyphs" stroke="#000" stroke-width="0.3">ANO61 48 µM</text>
<text x="99.61" y="608.9" font-size="13.1" textLength="89.62" lengthAdjust="spacingAndGlyphs" stroke="#000" stroke-width="0.3">ANO61 30 µM</text>
<text x="141.98" y="665.4" font-size="13.1" textLength="44.99" lengthAdjust="spacingAndGlyphs" stroke="#000" stroke-width="0.3">Vehicle</text>
<line x1="39.6" y1="652.5" x2="39.6" y2="671.1" stroke="#000" stroke-width="1.4"/>
<polygon points="35.8,653.4 43.4,653.4 39.6,644.6" fill="#000"/>
<line x1="39" y1="671.1" x2="48.5" y2="671.1" stroke="#000" stroke-width="1.4"/>
<polygon points="48,667.2 48,675.3 57.8,671.2" fill="#000"/>
<text x="3.95" y="666" font-size="13.6" textLength="27.97" lengthAdjust="spacingAndGlyphs" stroke="#000" stroke-width="0.3">20%</text>
<text x="32.62" y="686.9" font-size="13.3" textLength="33.7" lengthAdjust="spacingAndGlyphs" stroke="#000" stroke-width="0.3">1 min</text>
<line x1="267.5" y1="531.5" x2="267.5" y2="648.2" stroke="#000" stroke-width="1.6"/>
<line x1="263.2" y1="531.5" x2="267.5" y2="531.5" stroke="#000" stroke-width="1.6"/>
<text x="261" y="536.04" font-size="12.6" font-weight="bold" text-anchor="end" stroke="#000" stroke-width="0.4">100</text>
<line x1="263.2" y1="554.84" x2="267.5" y2="554.84" stroke="#000" stroke-width="1.6"/>
<text x="261" y="559.38" font-size="12.6" font-weight="bold" text-anchor="end" stroke="#000" stroke-width="0.4">80</text>
<line x1="263.2" y1="578.18" x2="267.5" y2="578.18" stroke="#000" stroke-width="1.6"/>
<text x="261" y="582.72" font-size="12.6" font-weight="bold" text-anchor="end" stroke="#000" stroke-width="0.4">60</text>
<line x1="263.2" y1="601.52" x2="267.5" y2="601.52" stroke="#000" stroke-width="1.6"/>
<text x="261" y="606.06" font-size="12.6" font-weight="bold" text-anchor="end" stroke="#000" stroke-width="0.4">40</text>
<line x1="263.2" y1="624.86" x2="267.5" y2="624.86" stroke="#000" stroke-width="1.6"/>
<text x="261" y="629.4" font-size="12.6" font-weight="bold" text-anchor="end" stroke="#000" stroke-width="0.4">20</text>
<line x1="263.2" y1="648.2" x2="267.5" y2="648.2" stroke="#000" stroke-width="1.6"/>
<text x="261" y="652.74" font-size="12.6" font-weight="bold" text-anchor="end" stroke="#000" stroke-width="0.4">0</text>
<line x1="267.5" y1="648.2" x2="382.5" y2="648.2" stroke="#000" stroke-width="1.6"/>
<line x1="285.6" y1="648.2" x2="285.6" y2="652.7" stroke="#000" stroke-width="1.6"/>
<line x1="312.7" y1="648.2" x2="312.7" y2="652.7" stroke="#000" stroke-width="1.6"/>
<line x1="339.2" y1="648.2" x2="339.2" y2="652.7" stroke="#000" stroke-width="1.6"/>
<line x1="366.4" y1="648.2" x2="366.4" y2="652.7" stroke="#000" stroke-width="1.6"/>
<rect x="277.95" y="549.43" width="15.4" height="98.77" fill="#7b7b7b" stroke="#000" stroke-width="2.2"/>
<rect x="304.65" y="636.03" width="16" height="12.17" fill="#bdbdbd" stroke="#000" stroke-width="2.2"/>
<rect x="330.6" y="645.6" width="17" height="2.4" fill="#9a9a9a" stroke="#000" stroke-width="1.3"/>
<rect x="358.65" y="544.83" width="15.7" height="103.37" fill="#e8e8e8" stroke="#000" stroke-width="2.2"/>
<line x1="285.6" y1="541.5" x2="285.6" y2="556.7" stroke="#111" stroke-width="1.05"/>
<line x1="281.7" y1="541.5" x2="289.5" y2="541.5" stroke="#111" stroke-width="1.05"/>
<line x1="281.7" y1="556.7" x2="289.5" y2="556.7" stroke="#111" stroke-width="1.05"/>
<line x1="312.7" y1="620.3" x2="312.7" y2="648.2" stroke="#111" stroke-width="1.05"/>
<line x1="308.8" y1="620.3" x2="316.6" y2="620.3" stroke="#111" stroke-width="1.05"/>
<line x1="308.8" y1="648.2" x2="316.6" y2="648.2" stroke="#111" stroke-width="1.05"/>
<line x1="339.2" y1="642" x2="339.2" y2="648.2" stroke="#111" stroke-width="1.05"/>
<line x1="335.3" y1="642" x2="343.1" y2="642" stroke="#111" stroke-width="1.05"/>
<line x1="335.3" y1="648.2" x2="343.1" y2="648.2" stroke="#111" stroke-width="1.05"/>
<line x1="366.4" y1="538.1" x2="366.4" y2="549.1" stroke="#111" stroke-width="1.05"/>
<line x1="362.5" y1="538.1" x2="370.3" y2="538.1" stroke="#111" stroke-width="1.05"/>
<line x1="362.5" y1="549.1" x2="370.3" y2="549.1" stroke="#111" stroke-width="1.05"/>
<circle cx="279.1" cy="546.7" r="2.35" fill="#000"/>
<circle cx="285.8" cy="539.5" r="2.35" fill="#000"/>
<circle cx="292.3" cy="538.6" r="2.35" fill="#000"/>
<circle cx="292.3" cy="549.8" r="2.35" fill="#000"/>
<circle cx="285.8" cy="554.5" r="2.35" fill="#000"/>
<circle cx="292.3" cy="555.1" r="2.35" fill="#000"/>
<circle cx="279.1" cy="557.6" r="2.35" fill="#000"/>
<circle cx="312.7" cy="616.5" r="2.35" fill="#000"/>
<circle cx="312.7" cy="630.1" r="2.35" fill="#000"/>
<circle cx="305.9" cy="648.1" r="2.35" fill="#000"/>
<circle cx="319" cy="644.9" r="2.35" fill="#000"/>
<circle cx="332.8" cy="641.5" r="2.35" fill="#000"/>
<circle cx="339.6" cy="643.2" r="2.35" fill="#000"/>
<circle cx="346.3" cy="644.6" r="2.35" fill="#000"/>
<circle cx="332.8" cy="648.1" r="2.35" fill="#000"/>
<circle cx="359.7" cy="539.7" r="2.35" fill="#000"/>
<circle cx="373" cy="541.2" r="2.35" fill="#000"/>
<circle cx="366.5" cy="549.7" r="2.35" fill="#000"/>
<polyline points="285.3,531.4 285.3,524.7 312.6,524.7 312.6,609.7" fill="none" stroke="#000" stroke-width="1.4" stroke-linejoin="miter" stroke-linecap="butt"/>
<polyline points="285.3,508 285.3,501.8 339.5,501.8 339.5,635.2" fill="none" stroke="#000" stroke-width="1.4" stroke-linejoin="miter" stroke-linecap="butt"/>
<path d="M288.5,513.2 L288.5,519.4 M285.82,514.75 L291.18,517.85 M291.18,514.75 L285.82,517.85 M295.5,513.2 L295.5,519.4 M292.82,514.75 L298.18,517.85 M298.18,514.75 L292.82,517.85 M302.5,513.2 L302.5,519.4 M299.82,514.75 L305.18,517.85 M305.18,514.75 L299.82,517.85 M309.5,513.2 L309.5,519.4 M306.82,514.75 L312.18,517.85 M312.18,514.75 L306.82,517.85" stroke="#000" stroke-width="1.5" stroke-linecap="butt" fill="none"/>
<path d="M302,489.6 L302,495.8 M299.32,491.15 L304.68,494.25 M304.68,491.15 L299.32,494.25 M309,489.6 L309,495.8 M306.32,491.15 L311.68,494.25 M311.68,491.15 L306.32,494.25 M316,489.6 L316,495.8 M313.32,491.15 L318.68,494.25 M318.68,491.15 L313.32,494.25 M323,489.6 L323,495.8 M320.32,491.15 L325.68,494.25 M325.68,491.15 L320.32,494.25" stroke="#000" stroke-width="1.5" stroke-linecap="butt" fill="none"/>
<text x="289.9" y="655.6" font-size="12.8" font-weight="bold" text-anchor="end" transform="rotate(-90 289.9 655.6)" stroke="#000" stroke-width="0.4">Vehicle</text>
<text x="317" y="655.6" font-size="12.8" font-weight="bold" text-anchor="end" transform="rotate(-90 317 655.6)" stroke="#000" stroke-width="0.4">48 µM</text>
<text x="343.5" y="655.6" font-size="12.8" font-weight="bold" text-anchor="end" transform="rotate(-90 343.5 655.6)" stroke="#000" stroke-width="0.4">30 µM</text>
<text x="370.7" y="655.6" font-size="12.8" font-weight="bold" text-anchor="end" transform="rotate(-90 370.7 655.6)" stroke="#000" stroke-width="0.4">10 µM</text>
<text x="233.7" y="662.3" font-size="12.6" font-weight="bold" textLength="148.58" lengthAdjust="spacingAndGlyphs" transform="rotate(-90 233.7 662.3)" stroke="#000" stroke-width="0.4">Maximal aggregation (%)</text>
<text x="396.89" y="502.5" font-size="24" font-weight="bold" textLength="14.51" lengthAdjust="spacingAndGlyphs" stroke="#000" stroke-width="0.4">h</text>
<text x="432.39" y="501.8" font-size="18.3" font-style="italic" textLength="114.99" lengthAdjust="spacingAndGlyphs" stroke="#000" stroke-width="0.3">TRAP6 (PRP)</text>
<text x="571.23" y="501.4" font-size="18.3" font-style="italic" textLength="129.24" lengthAdjust="spacingAndGlyphs" stroke="#000" stroke-width="0.3">Collagen (PRP)</text>
<line x1="454" y1="529.9" x2="454" y2="650.1" stroke="#000" stroke-width="1.6"/>
<line x1="449.7" y1="529.9" x2="454" y2="529.9" stroke="#000" stroke-width="1.6"/>
<text x="447.9" y="534.51" font-size="12.8" font-weight="bold" text-anchor="end" stroke="#000" stroke-width="0.4">150</text>
<line x1="449.7" y1="569.97" x2="454" y2="569.97" stroke="#000" stroke-width="1.6"/>
<text x="447.9" y="574.57" font-size="12.8" font-weight="bold" text-anchor="end" stroke="#000" stroke-width="0.4">100</text>
<line x1="449.7" y1="610.03" x2="454" y2="610.03" stroke="#000" stroke-width="1.6"/>
<text x="447.9" y="614.64" font-size="12.8" font-weight="bold" text-anchor="end" stroke="#000" stroke-width="0.4">50</text>
<line x1="449.7" y1="650.1" x2="454" y2="650.1" stroke="#000" stroke-width="1.6"/>
<text x="447.9" y="654.71" font-size="12.8" font-weight="bold" text-anchor="end" stroke="#000" stroke-width="0.4">0</text>
<line x1="454" y1="650.1" x2="533.8" y2="650.1" stroke="#000" stroke-width="1.6"/>
<line x1="470" y1="650.1" x2="470" y2="654.6" stroke="#000" stroke-width="1.6"/>
<line x1="494" y1="650.1" x2="494" y2="654.6" stroke="#000" stroke-width="1.6"/>
<line x1="518" y1="650.1" x2="518" y2="654.6" stroke="#000" stroke-width="1.6"/>
<rect x="462.85" y="595.63" width="14.3" height="54.47" fill="#7b7b7b" stroke="#000" stroke-width="2.2"/>
<rect x="486.95" y="594.43" width="14.1" height="55.67" fill="#c6c6c6" stroke="#000" stroke-width="2.2"/>
<rect x="511.15" y="600.03" width="13.8" height="50.07" fill="#9b9b9b" stroke="#000" stroke-width="2.2"/>
<line x1="470" y1="579.5" x2="470" y2="609.4" stroke="#222" stroke-width="1.2"/>
<line x1="466.4" y1="579.5" x2="473.6" y2="579.5" stroke="#222" stroke-width="1.2"/>
<line x1="466.4" y1="609.4" x2="473.6" y2="609.4" stroke="#222" stroke-width="1.2"/>
<line x1="494" y1="566.7" x2="494" y2="619.5" stroke="#666" stroke-width="1.2"/>
<line x1="490.4" y1="566.7" x2="497.6" y2="566.7" stroke="#666" stroke-width="1.2"/>
<line x1="490.4" y1="619.5" x2="497.6" y2="619.5" stroke="#666" stroke-width="1.2"/>
<line x1="518" y1="575.3" x2="518" y2="622.6" stroke="#555" stroke-width="1.2"/>
<line x1="514.4" y1="575.3" x2="521.6" y2="575.3" stroke="#555" stroke-width="1.2"/>
<line x1="514.4" y1="622.6" x2="521.6" y2="622.6" stroke="#555" stroke-width="1.2"/>
<circle cx="470" cy="582" r="2.35" fill="#000"/>
<circle cx="470" cy="590.5" r="2.35" fill="#000"/>
<circle cx="470" cy="611.5" r="2.35" fill="#000"/>
<circle cx="488.4" cy="577.8" r="2.35" fill="#000"/>
<circle cx="499.4" cy="578.6" r="2.35" fill="#000"/>
<circle cx="494" cy="623.7" r="2.35" fill="#000"/>
<circle cx="518" cy="577" r="2.35" fill="#000"/>
<circle cx="518" cy="595.7" r="2.35" fill="#000"/>
<circle cx="518" cy="624.3" r="2.35" fill="#000"/>
<text x="474.3" y="657.4" font-size="13.3" font-weight="bold" text-anchor="end" transform="rotate(-90 474.3 657.4)" stroke="#000" stroke-width="0.4">Vehicle</text>
<text x="498.3" y="657.4" font-size="13.3" font-weight="bold" text-anchor="end" transform="rotate(-90 498.3 657.4)" stroke="#000" stroke-width="0.4">48 µM</text>
<text x="522.3" y="657.4" font-size="13.3" font-weight="bold" text-anchor="end" transform="rotate(-90 522.3 657.4)" stroke="#000" stroke-width="0.4">30 µM</text>
<text x="417.1" y="664.33" font-size="12.8" font-weight="bold" textLength="152.73" lengthAdjust="spacingAndGlyphs" transform="rotate(-90 417.1 664.33)" stroke="#000" stroke-width="0.4">Maximal aggregation (%)</text>
<line x1="594.4" y1="529.9" x2="594.4" y2="649.2" stroke="#000" stroke-width="1.6"/>
<line x1="590.1" y1="529.9" x2="594.4" y2="529.9" stroke="#000" stroke-width="1.6"/>
<text x="587.6" y="534.51" font-size="12.8" font-weight="bold" text-anchor="end" stroke="#000" stroke-width="0.4">150</text>
<line x1="590.1" y1="569.67" x2="594.4" y2="569.67" stroke="#000" stroke-width="1.6"/>
<text x="587.6" y="574.27" font-size="12.8" font-weight="bold" text-anchor="end" stroke="#000" stroke-width="0.4">100</text>
<line x1="590.1" y1="609.43" x2="594.4" y2="609.43" stroke="#000" stroke-width="1.6"/>
<text x="587.6" y="614.04" font-size="12.8" font-weight="bold" text-anchor="end" stroke="#000" stroke-width="0.4">50</text>
<line x1="590.1" y1="649.2" x2="594.4" y2="649.2" stroke="#000" stroke-width="1.6"/>
<text x="587.6" y="653.81" font-size="12.8" font-weight="bold" text-anchor="end" stroke="#000" stroke-width="0.4">0</text>
<line x1="594.4" y1="649.2" x2="673.7" y2="649.2" stroke="#000" stroke-width="1.6"/>
<line x1="610.4" y1="649.2" x2="610.4" y2="653.7" stroke="#000" stroke-width="1.6"/>
<line x1="634.3" y1="649.2" x2="634.3" y2="653.7" stroke="#000" stroke-width="1.6"/>
<line x1="658.3" y1="649.2" x2="658.3" y2="653.7" stroke="#000" stroke-width="1.6"/>
<rect x="603.95" y="585.13" width="13.2" height="64.07" fill="#7b7b7b" stroke="#000" stroke-width="2.2"/>
<rect x="627.75" y="594.43" width="13.3" height="54.77" fill="#c6c6c6" stroke="#000" stroke-width="2.2"/>
<rect x="651.65" y="587.63" width="13.5" height="61.57" fill="#9b9b9b" stroke="#000" stroke-width="2.2"/>
<line x1="610.4" y1="573" x2="610.4" y2="594.8" stroke="#222" stroke-width="1.2"/>
<line x1="606.8" y1="573" x2="614" y2="573" stroke="#222" stroke-width="1.2"/>
<line x1="606.8" y1="594.8" x2="614" y2="594.8" stroke="#222" stroke-width="1.2"/>
<line x1="634.3" y1="571.3" x2="634.3" y2="615.2" stroke="#333" stroke-width="1.2"/>
<line x1="630.7" y1="571.3" x2="637.9" y2="571.3" stroke="#333" stroke-width="1.2"/>
<line x1="630.7" y1="615.2" x2="637.9" y2="615.2" stroke="#333" stroke-width="1.2"/>
<line x1="658.3" y1="576.1" x2="658.3" y2="596.5" stroke="#333" stroke-width="1.2"/>
<line x1="654.7" y1="576.1" x2="661.9" y2="576.1" stroke="#333" stroke-width="1.2"/>
<line x1="654.7" y1="596.5" x2="661.9" y2="596.5" stroke="#333" stroke-width="1.2"/>
<circle cx="605.2" cy="576.9" r="2.35" fill="#000"/>
<circle cx="616" cy="575.8" r="2.35" fill="#000"/>
<circle cx="610.6" cy="582.6" r="2.35" fill="#000"/>
<circle cx="610.6" cy="599.9" r="2.35" fill="#000"/>
<circle cx="634.4" cy="576.9" r="2.35" fill="#000"/>
<circle cx="629" cy="583.7" r="2.35" fill="#000"/>
<circle cx="639.8" cy="586.3" r="2.35" fill="#000"/>
<circle cx="634.4" cy="625.4" r="2.35" fill="#000"/>
<circle cx="652.8" cy="579.8" r="2.35" fill="#000"/>
<circle cx="663.6" cy="580.7" r="2.35" fill="#000"/>
<circle cx="658.4" cy="598.5" r="2.35" fill="#000"/>
<text x="614.7" y="657" font-size="13.3" font-weight="bold" text-anchor="end" transform="rotate(-90 614.7 657)" stroke="#000" stroke-width="0.4">Vehicle</text>
<text x="638.6" y="657" font-size="13.3" font-weight="bold" text-anchor="end" transform="rotate(-90 638.6 657)" stroke="#000" stroke-width="0.4">48 µM</text>
<text x="662.6" y="657" font-size="13.3" font-weight="bold" text-anchor="end" transform="rotate(-90 662.6 657)" stroke="#000" stroke-width="0.4">30 µM</text>
<text x="557.6" y="663.92" font-size="12.8" font-weight="bold" textLength="152.02" lengthAdjust="spacingAndGlyphs" transform="rotate(-90 557.6 663.92)" stroke="#000" stroke-width="0.4">Maximal aggregation (%)</text>
</g>
</svg>
</body></html>
